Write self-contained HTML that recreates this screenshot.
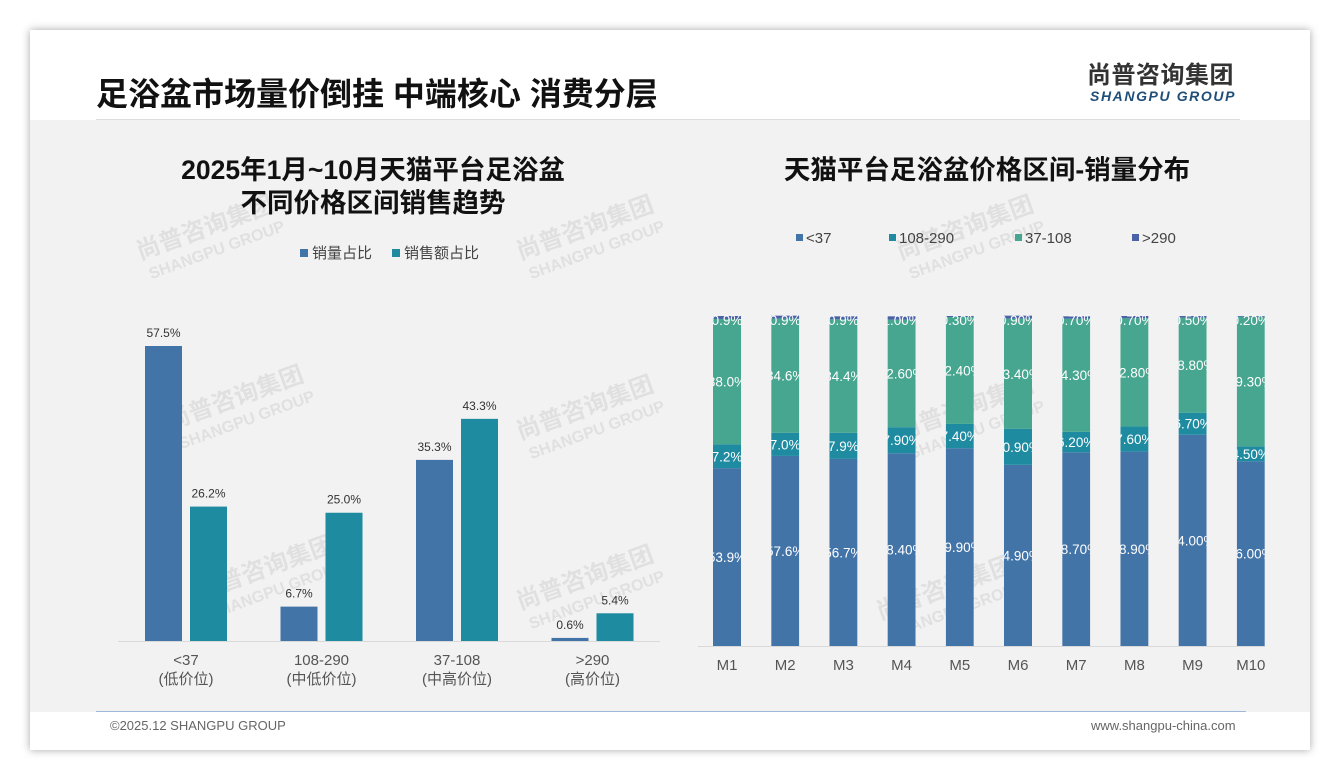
<!DOCTYPE html>
<html><head><meta charset="utf-8"><style>
body{margin:0;width:1340px;height:780px;background:#fff;font-family:"Liberation Sans","Noto Sans CJK SC",sans-serif;overflow:hidden;position:relative}
.card{position:absolute;left:30px;top:30px;width:1280px;height:720px;background:#fff;box-shadow:0 0 8px rgba(0,0,0,.35)}
.gray{position:absolute;left:30px;top:120px;width:1280px;height:592px;background:#f2f2f2}
.t{position:absolute;white-space:nowrap}
</style></head><body>
<div class="card"></div>
<div class="gray"></div>
<div class="t" style="left:96px;top:74px;font-size:32px;line-height:40px;font-weight:bold;color:#111">足浴盆市场量价倒挂 中端核心 消费分层</div>
<div class="t" style="left:1087px;top:62px;font-size:24px;line-height:28px;font-weight:bold;color:#333;letter-spacing:0.5px">尚普咨询集团</div>
<div class="t" style="left:1090px;top:88px;font-size:14px;line-height:16px;font-weight:bold;font-style:italic;color:#1f4e79;letter-spacing:1.6px">SHANGPU GROUP</div>
<div style="position:absolute;left:96px;top:119px;width:1144px;height:1px;background:#ddd"></div>
<div class="t" style="left:123px;top:154px;width:500px;text-align:center;font-size:26.5px;font-weight:bold;color:#111;line-height:33px">2025年1月~10月天猫平台足浴盆<br>不同价格区间销售趋势</div>
<div class="t" style="left:737px;top:154px;width:500px;text-align:center;font-size:26.5px;line-height:33px;font-weight:bold;color:#111">天猫平台足浴盆价格区间-销量分布</div>
<div style="position:absolute;left:96px;top:711px;width:1150px;height:1px;background:#9fb8d8"></div>
<div class="t" style="left:110px;top:718px;font-size:13px;color:#666">©2025.12 SHANGPU GROUP</div>
<div class="t" style="left:1091px;top:718px;font-size:13px;color:#666">www.shangpu-china.com</div>
<svg id="c" width="1340" height="780" style="position:absolute;left:0;top:0" font-family="Liberation Sans, Noto Sans CJK SC, sans-serif"></svg>
<script>
const cats=['<37','108-290','37-108','>290'];
const catSub=['(低价位)','(中低价位)','(中高价位)','(高价位)'];
const volShare=[57.5,6.7,35.3,0.6];
const salesShare=[26.2,25.0,43.3,5.4];
const months=['M1','M2','M3','M4','M5','M6','M7','M8','M9','M10'];
const sLow=[53.9,57.6,56.7,58.4,59.9,54.9,58.7,58.9,64.0,56.0];
const sMidLow=[7.2,7.0,7.9,7.9,7.4,10.9,6.2,7.6,6.7,4.5];
const sMidHigh=[38.0,34.6,34.4,32.6,32.4,33.4,34.3,32.8,28.8,39.3];
const sHigh=[0.9,0.9,0.9,1.0,0.3,0.9,0.7,0.7,0.5,0.2];
const lblLow=['53.9%','57.6%','56.7%','58.40%','59.90%','54.90%','58.70%','58.90%','64.00%','56.00%'];
const lblMidLow=['7.2%','7.0%','7.9%','7.90%','7.40%','10.90%','6.20%','7.60%','6.70%','4.50%'];
const lblMidHigh=['38.0%','34.6%','34.4%','32.60%','32.40%','33.40%','34.30%','32.80%','28.80%','39.30%'];
const lblHigh=['0.9%','0.9%','0.9%','1.00%','0.30%','0.90%','0.70%','0.70%','0.50%','0.20%'];
const NS='http://www.w3.org/2000/svg',svg=document.getElementById('c');
function mk(t,a,p){const e=document.createElementNS(NS,t);for(const k in a)e.setAttribute(k,a[k]);(p||svg).appendChild(e);return e;}
[[140,260],[520,260],[170,430],[520,440],[200,600],[520,610],[900,260],[900,440],[880,620]].forEach(([x,y])=>{
 const g=mk('g',{transform:`translate(${x},${y}) rotate(-20)`,opacity:0.07});
 
 
 const a=mk('text',{x:0,y:0,'font-size':24,'font-weight':'bold',fill:'#000'},g);a.textContent='尚普咨询集团';
 const b=mk('text',{x:4,y:22,'font-size':16,'font-weight':'bold',fill:'#000'},g);b.textContent='SHANGPU GROUP';
});
const C1='#4374A8',C2='#1E8BA0',C3='#47A68F',C4='#4A62A6';
const lBase=641,lScale=295/57.5,lx=i=>186+i*135.5;
const ly=v=>lBase-v*lScale;
let e=mk('line',{x1:118,x2:660,y1:lBase+0.5,y2:lBase+0.5,stroke:'#d9d9d9'});

[['销量占比',C1,300],['销售额占比',C2,392]].forEach(([t,c,x])=>{
 e=mk('rect',{x:x,y:249,width:8,height:8,fill:c});
 
 e=mk('text',{x:x+12,y:258,'font-size':15,fill:'#444'});e.textContent=t;
 
});
cats.forEach((c,i)=>{
 [[volShare[i],C1,-41],[salesShare[i],C2,4]].forEach(([v,col,dx],j)=>{
  e=mk('rect',{x:lx(i)+dx,y:ly(v),width:37,height:v*lScale,fill:col});
  
  e=mk('text',{x:lx(i)+dx+18.5,y:ly(v)-9,'font-size':12,fill:'#333','text-anchor':'middle'});e.textContent=v.toFixed(1)+'%';
  
 });
 e=mk('text',{x:lx(i),y:665,'font-size':15,fill:'#555','text-anchor':'middle'});e.textContent=c;
 
 e=mk('text',{x:lx(i),y:684,'font-size':15,fill:'#555','text-anchor':'middle'});e.textContent=catSub[i];
 
});
const rBase=646,rScale=3.3,rx=i=>727+i*58.2,bw=28;
e=mk('line',{x1:698,x2:1265,y1:rBase+0.5,y2:rBase+0.5,stroke:'#d9d9d9'});

[['<37',C1,796],['108-290',C2,889],['37-108',C3,1015],['>290',C4,1132]].forEach(([t,c,x])=>{
 e=mk('rect',{x:x,y:234,width:7,height:7,fill:c});
 
 e=mk('text',{x:x+10,y:243,'font-size':15,fill:'#444'});e.textContent=t;
 
});
const defs=mk('defs',{});
const series=[[sLow,lblLow,C1,'low'],[sMidLow,lblMidLow,C2,'mid-low'],[sMidHigh,lblMidHigh,C3,'mid-high'],[sHigh,lblHigh,C4,'high']];
months.forEach((m,i)=>{
 const cp=mk('clipPath',{id:'cp'+i},defs);
 mk('rect',{x:rx(i)-bw/2,y:300,width:bw,height:360},cp);
 let cum=0;const g=mk('g',{'clip-path':`url(#cp${i})`});
 series.forEach(([arr,lbl,col,nm])=>{
  const v=arr[i],y=rBase-(cum+v)*rScale;
  e=mk('rect',{x:rx(i)-bw/2,y:y,width:bw,height:v*rScale,fill:col},g);
  
  cum+=v;
 });
 cum=0;
 series.forEach(([arr,lbl,col,nm])=>{
  const v=arr[i],y=rBase-(cum+v/2)*rScale;
  let ty=Math.max(y+5,rBase-100*rScale+9);
  e=mk('text',{x:rx(i),y:ty,'font-size':13.5,fill:'#fff','text-anchor':'middle'},g);e.textContent=lbl[i];
  
  cum+=v;
 });
 e=mk('text',{x:rx(i),y:670,'font-size':15,fill:'#555','text-anchor':'middle'});e.textContent=m;
 
});
</script>
</body></html>
